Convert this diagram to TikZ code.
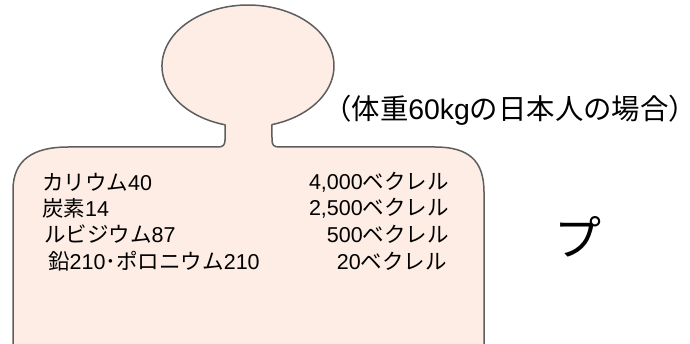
\documentclass[tikz,border=0pt]{standalone}
\usepackage{fontspec}
\setmainfont{Liberation Sans}
\newfontfamily\jp{Noto Sans CJK JP}
\newcommand{\J}[1]{{\jp #1}}
\definecolor{skin}{HTML}{FDEDE4}
\definecolor{outline}{HTML}{5E5E5E}
\begin{document}
\begin{tikzpicture}[x=1pt,y=1pt,
  body/.style={draw=outline,line width=1.5pt,fill=skin,line join=round},
  label/.style={inner sep=0pt,font=\fontsize{21.5}{24}\selectfont},
  lcol/.style={label,anchor=west},
  rcol/.style={label,anchor=east}]
\useasboundingbox (0,0) rectangle (690,-344);
% silhouette: torso with head, open at the bottom
\path[body] (13,-344) -- (13,-190)
  .. controls (13,-160) and (33,-147) .. (68,-147)
  -- (218,-147) .. controls (223,-147) and (225,-145) .. (225,-140)
  -- (225,-124.8)
  arc[start angle=254.5, end angle=-73.8, x radius=86, y radius=61]
  -- (272,-140) .. controls (272,-145) and (274,-147) .. (279,-147)
  -- (435,-147) .. controls (468,-147) and (484,-160) .. (484,-192)
  -- (484,-344);
% caption (closing bracket's empty right half trimmed)
\node[inner sep=0pt,anchor=west,font=\fontsize{28.4}{32}\selectfont] (cap) at (323,-110)
  {\J{（体重}60kg\J{の日本人の場合）}\kern-15pt};
% nuclide list
\node[lcol] (n1) at (42,-182) {\J{カリウム}40};
\node[lcol] (n2) at (42,-208) {\J{炭素}14};
\node[lcol] (n3) at (44,-234) {\J{ルビジウム}87};
\node[lcol] (n4) at (48,-261) {\J{鉛}210\J{･ポロニウム}210};
\node[rcol] (v1) at (449,-182) {4,000\J{ベクレル}};
\node[rcol] (v2) at (449,-208) {2,500\J{ベクレル}};
\node[rcol] (v3) at (449,-234) {500\J{ベクレル}};
\node[rcol] (v4) at (447,-261) {20\J{ベクレル}};
% large kana
\node[inner sep=0pt,font=\fontsize{47}{50}\selectfont] (pu) at (578,-237) {\J{プ}};
\end{tikzpicture}
\end{document}
